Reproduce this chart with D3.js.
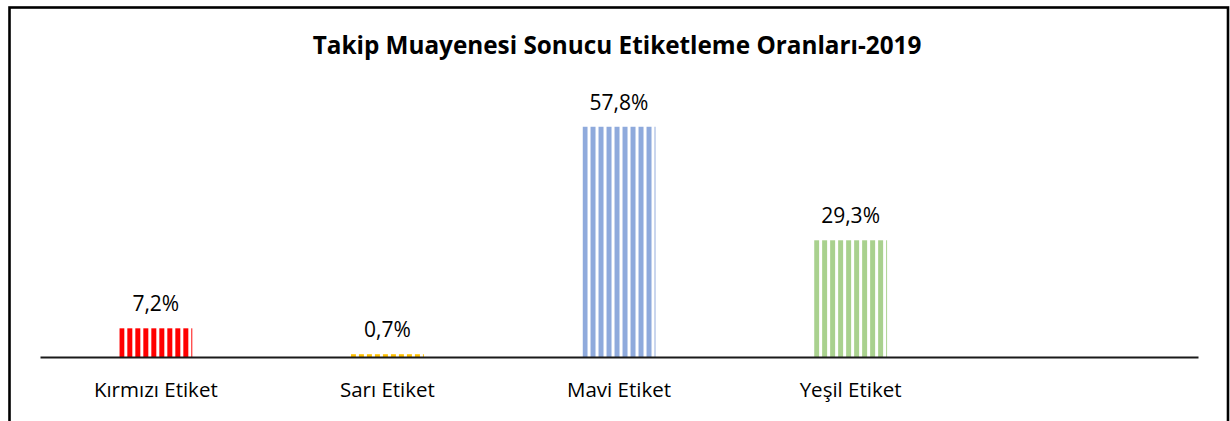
<!DOCTYPE html>
<html>
<head>
<meta charset="utf-8">
<script src="https://cdn.jsdelivr.net/npm/d3@7"></script>
<style>
  html, body { margin: 0; padding: 0; background: #fff; }
  svg { display: block; }
  text { font-family: "Open Sans", "Noto Sans", sans-serif; fill: #000; }
</style>
</head>
<body>
<svg id="chart" width="1230" height="421"></svg>
<script>
// Label categories (the last slot is left empty)
const categories = ["Kırmızı Etiket", "Sarı Etiket", "Mavi Etiket", "Yeşil Etiket", ""];
// Share of each label, in percent
const values = [7.2, 0.7, 57.8, 29.3, null];
const barColors = ["#FF0000", "#FFC000", "#8FAADC", "#A9D18E", "#FFFFFF"];
const titleText = "Takip Muayenesi Sonucu Etiketleme Oranları-2019";

const svg = d3.select("#chart");

// outer frame of the chart area
svg.append("rect")
  .attr("x", 9.5).attr("y", 7.5)
  .attr("width", 1218.5).attr("height", 500)
  .attr("fill", "none").attr("stroke", "#000").attr("stroke-width", 2.6);

svg.append("text")
  .attr("x", 617).attr("y", 54)
  .attr("text-anchor", "middle")
  .style("font-weight", "bold")
  .style("font-size", "24.3px")
  .text(titleText);

const x = d3.scaleBand()
  .domain(categories)
  .range([40, 1198])
  .paddingInner(0.685)
  .paddingOuter(0.3425);

const baseY = 357;
const y = d3.scaleLinear().domain([0, 60]).range([baseY, 118]);

// vertical stripe fills, one per category colour
const defs = svg.append("defs");
barColors.forEach((c, i) => {
  const p = defs.append("pattern")
    .attr("id", "stripe" + i)
    .attr("patternUnits", "userSpaceOnUse")
    .attr("x", x(categories[i]))
    .attr("width", 8).attr("height", 8);
  p.append("rect").attr("x", 0).attr("y", 0).attr("width", 5).attr("height", 8).attr("fill", c);
});

const data = categories.map((c, i) => ({ cat: c, v: values[i], i }))
  .filter(d => d.v != null);

svg.append("g").selectAll("rect")
  .data(data)
  .join("rect")
  .attr("x", d => x(d.cat))
  .attr("width", x.bandwidth())
  .attr("y", d => y(d.v))
  .attr("height", d => baseY - y(d.v))
  .attr("fill", d => `url(#stripe${d.i})`);

const fmt = v => d3.format(".1f")(v).replace(".", ",") + "%";

svg.append("g").selectAll("text")
  .data(data)
  .join("text")
  .attr("x", d => x(d.cat) + x.bandwidth() / 2)
  .attr("y", d => y(d.v) - 17)
  .attr("text-anchor", "middle")
  .style("font-size", "21px")
  .text(d => fmt(d.v));

// category axis, its domain line is the baseline
const axis = svg.append("g")
  .attr("transform", `translate(0,${baseY})`)
  .call(d3.axisBottom(x).tickSize(0).tickSizeOuter(0).tickPadding(25));
axis.select(".domain").attr("stroke", "#1a1a1a").attr("stroke-width", 2);
axis.selectAll(".tick text")
  .style("font-family", "'Open Sans', 'Noto Sans', sans-serif")
  .style("font-size", "20.5px")
  .attr("fill", "#000");
</script>
</body>
</html>
